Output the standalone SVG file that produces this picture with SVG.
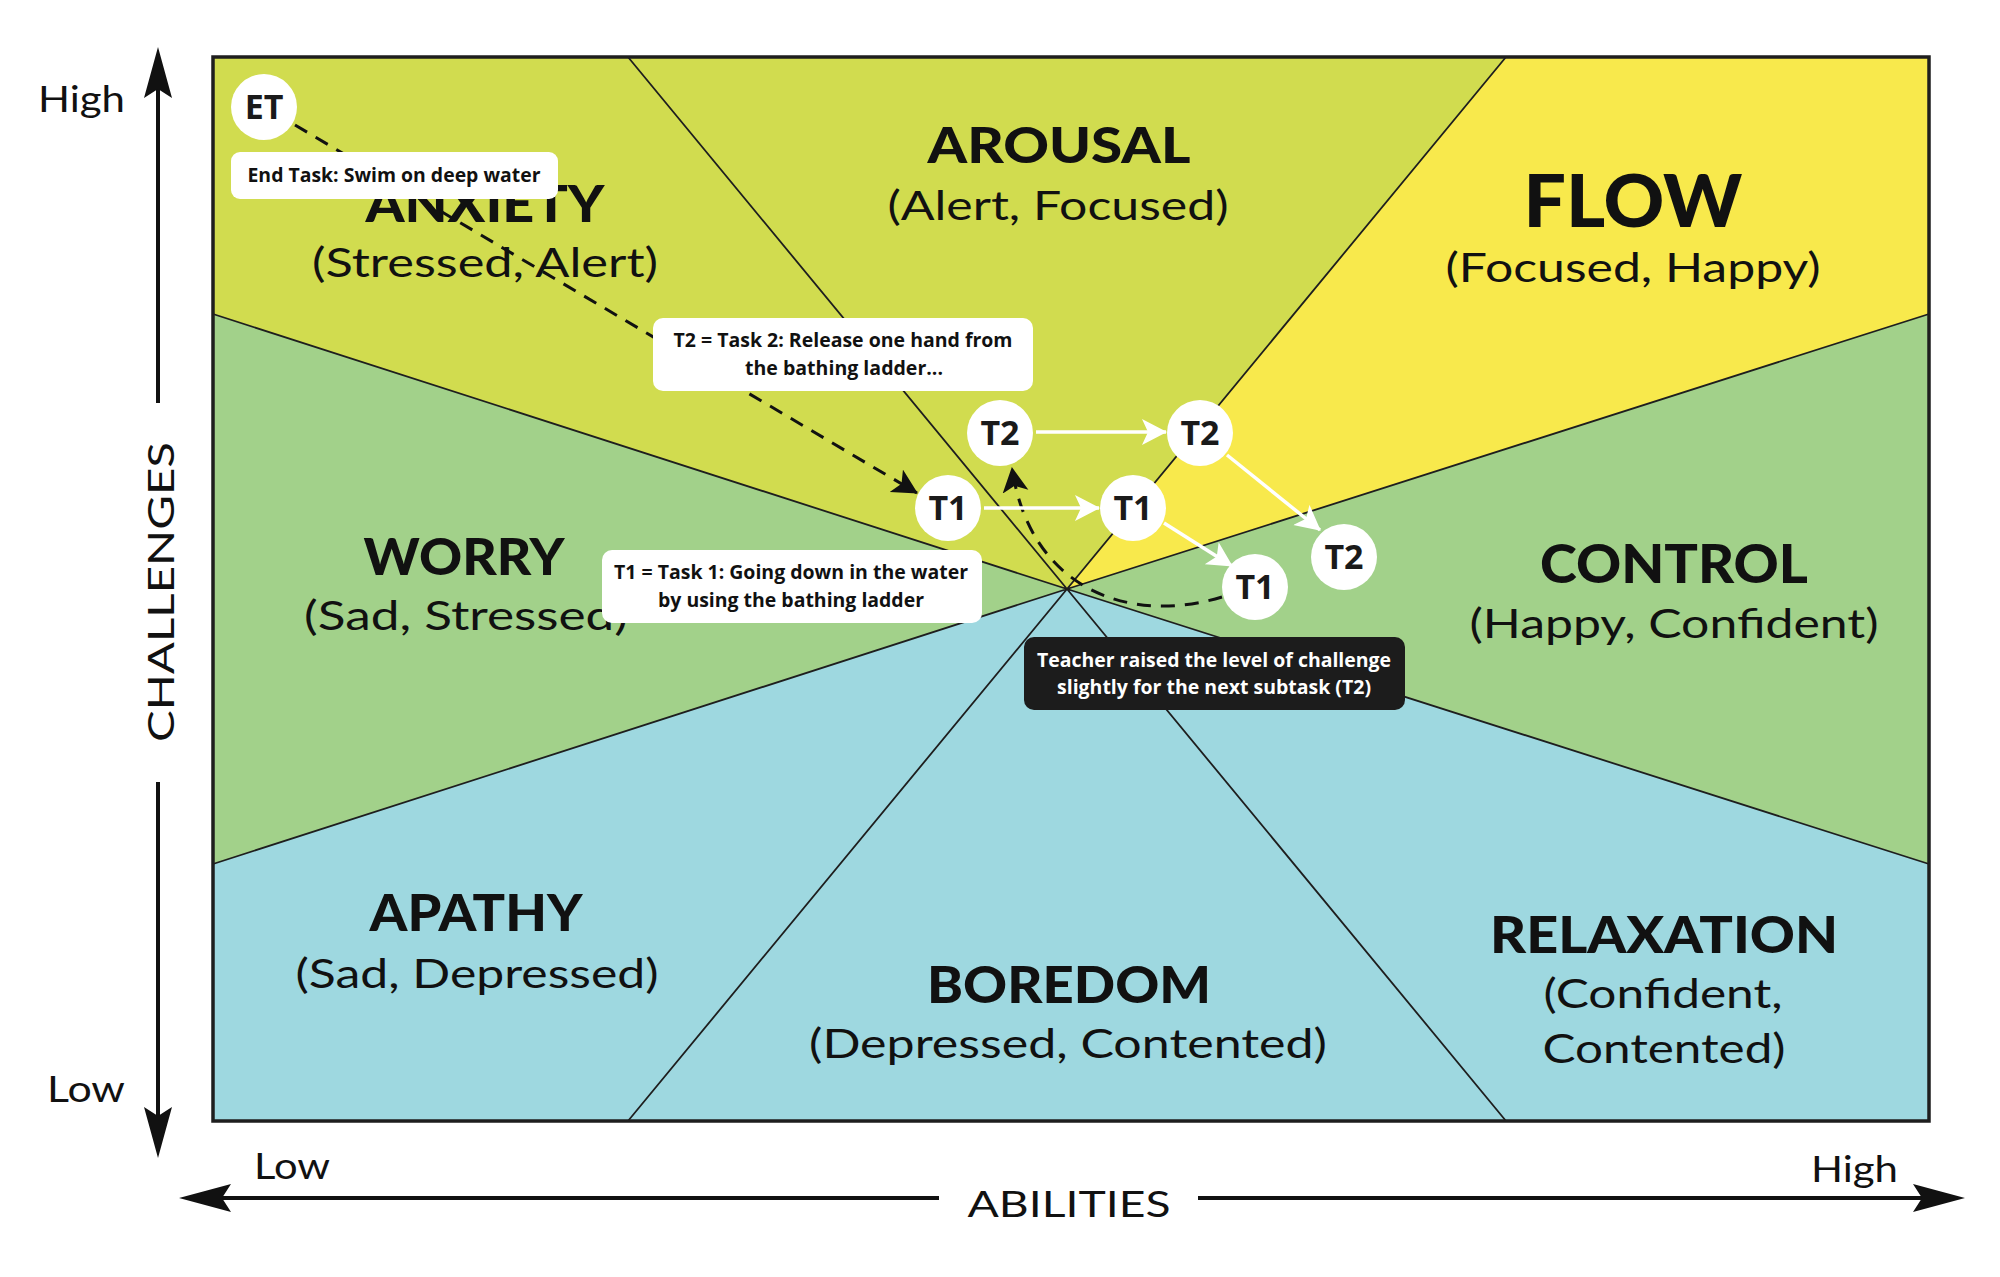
<svg xmlns="http://www.w3.org/2000/svg" width="2000" height="1277" viewBox="0 0 2000 1277">
<style>
.bg{fill:#ffffff}
.yg{fill:#d1dc4f}
.ye{fill:#f8e94c}
.gr{fill:#a2d18a}
.bl{fill:#9ed8e0}
.div{stroke:#1e1e1e;stroke-width:1.8;fill:none}
.frame{fill:none;stroke:#1e1e1e;stroke-width:3.5}
.h{font-family:Lato,'Liberation Sans',sans-serif;font-weight:900;fill:#111;text-anchor:middle}
.s{font-family:Lato,'Liberation Sans',sans-serif;font-weight:400;font-size:40px;fill:#111;text-anchor:middle}
.ax{font-family:Lato,'Liberation Sans',sans-serif;font-weight:400;font-size:36px;fill:#111}
.axl{stroke:#111;stroke-width:4;fill:none}
.ah{fill:#111}
.node{fill:#ffffff}
.nt{font-family:'Open Sans','Liberation Sans',sans-serif;font-weight:700;font-size:34px;fill:#1a1a1a;text-anchor:middle}
.box{fill:#ffffff}
.dbox{fill:#1c1c1c}
.bt{font-family:'Open Sans','Liberation Sans',sans-serif;font-weight:700;font-size:19px;fill:#111;text-anchor:middle}
.wt{font-family:'Open Sans','Liberation Sans',sans-serif;font-weight:700;font-size:19px;fill:#ffffff;text-anchor:middle}
.dash{stroke:#111;stroke-width:3;stroke-dasharray:14 10;fill:none}
.warr{stroke:#ffffff;stroke-width:3.5;fill:none}
</style>
<defs>
<marker id="mb" markerUnits="userSpaceOnUse" markerWidth="30" markerHeight="30" refX="24" refY="13" orient="auto">
<path d="M0,0 L25,13 L0,26 L6,13 Z" fill="#111"/>
</marker>
<marker id="mw" markerUnits="userSpaceOnUse" markerWidth="30" markerHeight="30" refX="24" refY="13" orient="auto">
<path d="M0,0 L25,13 L0,26 L6,13 Z" fill="#ffffff"/>
</marker>
</defs>
<rect class="bg" x="0" y="0" width="2000" height="1277"/>

<g id="regions">
<polygon class="yg" points="213,57 628,57 1067,589 213,314"/>
<polygon class="yg" points="628,57 1506,57 1067,589"/>
<polygon class="ye" points="1506,57 1929,57 1929,314 1067,589"/>
<polygon class="gr" points="1929,314 1929,864 1067,589"/>
<polygon class="bl" points="1929,864 1929,1121 1506,1121 1067,589"/>
<polygon class="bl" points="1506,1121 628,1121 1067,589"/>
<polygon class="bl" points="628,1121 213,1121 213,864 1067,589"/>
<polygon class="gr" points="213,864 213,314 1067,589"/>
<path class="div" d="M1067,589 L628,57 M1067,589 L1506,57 M1067,589 L213,314 M1067,589 L1929,314 M1067,589 L213,864 M1067,589 L1929,864 M1067,589 L628,1121 M1067,589 L1506,1121"/>
<rect class="frame" x="213" y="57" width="1716" height="1064"/>
</g>

<g id="region-labels">
<text class="h" x="485" y="222" font-size="51" textLength="239" lengthAdjust="spacingAndGlyphs">ANXIETY</text>
<text class="s" x="485" y="277" textLength="346" lengthAdjust="spacingAndGlyphs">(Stressed, Alert)</text>
<text class="h" x="1059" y="163" font-size="50" textLength="263" lengthAdjust="spacingAndGlyphs">AROUSAL</text>
<text class="s" x="1058" y="220" textLength="341" lengthAdjust="spacingAndGlyphs">(Alert, Focused)</text>
<text class="h" x="1633" y="227" font-size="72" textLength="219" lengthAdjust="spacingAndGlyphs">FLOW</text>
<text class="s" x="1633" y="282" textLength="375" lengthAdjust="spacingAndGlyphs">(Focused, Happy)</text>
<text class="h" x="464" y="575" font-size="52" textLength="201" lengthAdjust="spacingAndGlyphs">WORRY</text>
<text class="s" x="466" y="630" textLength="324" lengthAdjust="spacingAndGlyphs">(Sad, Stressed)</text>
<text class="h" x="1674" y="583" font-size="54" textLength="268" lengthAdjust="spacingAndGlyphs">CONTROL</text>
<text class="s" x="1674" y="638" textLength="409" lengthAdjust="spacingAndGlyphs">(Happy, Confident)</text>
<text class="h" x="476" y="931" font-size="52" textLength="213" lengthAdjust="spacingAndGlyphs">APATHY</text>
<text class="s" x="477" y="988" textLength="363" lengthAdjust="spacingAndGlyphs">(Sad, Depressed)</text>
<text class="h" x="1069" y="1003" font-size="52" textLength="284" lengthAdjust="spacingAndGlyphs">BOREDOM</text>
<text class="s" x="1068" y="1058" textLength="518" lengthAdjust="spacingAndGlyphs">(Depressed, Contented)</text>
<text class="h" x="1664" y="953" font-size="52" textLength="348" lengthAdjust="spacingAndGlyphs">RELAXATION</text>
<text class="s" x="1663" y="1008" textLength="239" lengthAdjust="spacingAndGlyphs">(Confident,</text>
<text class="s" x="1664" y="1063" textLength="243" lengthAdjust="spacingAndGlyphs">Contented)</text>
</g>

<g id="axes">
<path class="axl" d="M158,80 L158,403 M158,782 L158,1125"/>
<path class="ah" d="M158,47 L172,98 L158,89 L144,98 Z"/>
<path class="ah" d="M158,1158 L172,1107 L158,1116 L144,1107 Z"/>
<path class="axl" d="M212,1198 L939,1198 M1198,1198 L1935,1198"/>
<path class="ah" d="M179,1198 L231,1184 L222,1198 L231,1212 Z"/>
<path class="ah" d="M1965,1198 L1913,1184 L1922,1198 L1913,1212 Z"/>
<text class="ax" x="38" y="112" textLength="87" lengthAdjust="spacingAndGlyphs">High</text>
<text class="ax" x="47" y="1102" textLength="78" lengthAdjust="spacingAndGlyphs">Low</text>
<text class="ax" x="254" y="1179" textLength="76" lengthAdjust="spacingAndGlyphs">Low</text>
<text class="ax" x="1811" y="1182" textLength="87" lengthAdjust="spacingAndGlyphs">High</text>
<text class="ax" x="1069" y="1217" font-size="42" text-anchor="middle" textLength="203" lengthAdjust="spacingAndGlyphs">ABILITIES</text>
<text class="ax" x="174" y="592" font-size="50" text-anchor="middle" transform="rotate(-90 174 592)" textLength="300" lengthAdjust="spacingAndGlyphs">CHALLENGES</text>
</g>

<g id="connectors">
<path class="dash" d="M295,125 L917,493" marker-end="url(#mb)"/>
<path class="dash" d="M1222,597 C1130,625 1030,590 1012,468" marker-end="url(#mb)"/>
<path class="warr" d="M984,508 L1099,508" marker-end="url(#mw)"/>
<path class="warr" d="M1036,432 L1166,432" marker-end="url(#mw)"/>
<path class="warr" d="M1227,455 L1320,530" marker-end="url(#mw)"/>
<path class="warr" d="M1164,523 L1232,566" marker-end="url(#mw)"/>
</g>

<g id="node-et">
<circle class="node" cx="264" cy="107" r="33"/>
<text class="nt" x="264" y="119">ET</text>
</g>
<g id="node-endtask">
<rect class="box" x="231" y="152" width="327" height="47" rx="9"/>
<text class="bt" x="394" y="182" textLength="293" lengthAdjust="spacingAndGlyphs">End Task: Swim on deep water</text>
</g>
<g id="node-t2-label">
<rect class="box" x="653" y="318" width="380" height="73" rx="10"/>
<text class="bt" x="843" y="347" textLength="339" lengthAdjust="spacingAndGlyphs">T2 = Task 2: Release one hand from</text>
<text class="bt" x="844" y="375" textLength="198" lengthAdjust="spacingAndGlyphs">the bathing ladder...</text>
</g>
<g id="node-t1-label">
<rect class="box" x="602" y="550" width="380" height="73" rx="10"/>
<text class="bt" x="791" y="579" textLength="354" lengthAdjust="spacingAndGlyphs">T1 = Task 1: Going down in the water</text>
<text class="bt" x="791" y="607" textLength="266" lengthAdjust="spacingAndGlyphs">by using the bathing ladder</text>
</g>
<g id="node-teacher">
<rect class="dbox" x="1024" y="637" width="381" height="73" rx="10"/>
<text class="wt" x="1214" y="667" textLength="354" lengthAdjust="spacingAndGlyphs">Teacher raised the level of challenge</text>
<text class="wt" x="1214" y="694" textLength="314" lengthAdjust="spacingAndGlyphs">slightly for the next subtask (T2)</text>
</g>
<g id="node-t1a">
<circle class="node" cx="948" cy="508" r="33"/>
<text class="nt" x="948" y="520">T1</text>
</g>
<g id="node-t2a">
<circle class="node" cx="1000" cy="433" r="33"/>
<text class="nt" x="1000" y="445">T2</text>
</g>
<g id="node-t2b">
<circle class="node" cx="1200" cy="433" r="33"/>
<text class="nt" x="1200" y="445">T2</text>
</g>
<g id="node-t1b">
<circle class="node" cx="1133" cy="508" r="33"/>
<text class="nt" x="1133" y="520">T1</text>
</g>
<g id="node-t1c">
<circle class="node" cx="1255" cy="587" r="33"/>
<text class="nt" x="1255" y="599">T1</text>
</g>
<g id="node-t2c">
<circle class="node" cx="1344" cy="557" r="33"/>
<text class="nt" x="1344" y="569">T2</text>
</g>
</svg>
